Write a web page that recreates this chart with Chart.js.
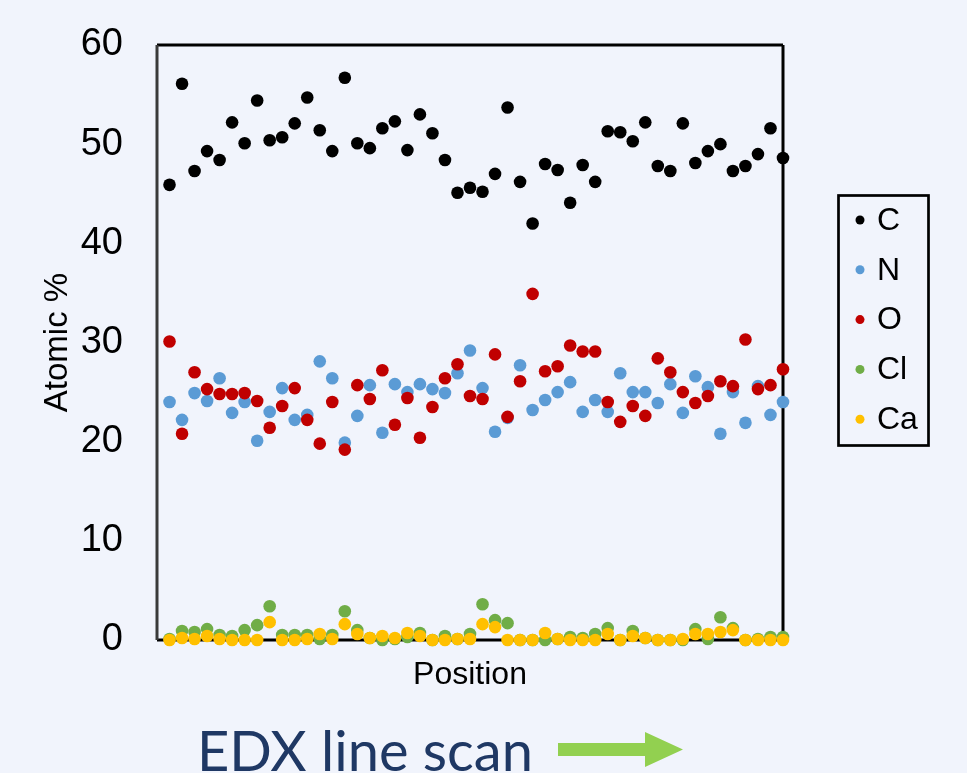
<!DOCTYPE html>
<html>
<head>
<meta charset="utf-8">
<script src="https://cdn.jsdelivr.net/npm/chart.js@4.4.0/dist/chart.umd.min.js"></script>
<style>
body { margin:0; background:#f1f4fc; width:967px; height:773px; overflow:hidden; position:relative }
#chart { position:absolute; left:0; top:0 }
#scanLabel { position:absolute; left:197px; top:722px; font-family:Lato, "Open Sans", sans-serif; font-size:56px; line-height:1; color:#1f3864; white-space:nowrap }
#scanArrow { position:absolute; left:556px; top:730px }
</style>
</head>
<body>
<canvas id="chart" width="967" height="773"></canvas>
<div id="scanLabel">EDX line scan</div>
<svg id="scanArrow" width="130" height="40"><polygon points="2,13 89,13 89,2 127,19.5 89,37 89,26 2,26" fill="#92d050"/></svg>
<script>
const positions = [1, 2, 3, 4, 5, 6, 7, 8, 9, 10, 11, 12, 13, 14, 15, 16, 17, 18, 19, 20, 21, 22, 23, 24, 25,
    26, 27, 28, 29, 30, 31, 32, 33, 34, 35, 36, 37, 38, 39, 40, 41, 42, 43, 44, 45, 46, 47, 48, 49, 50]

const carbon = [45.9, 56.1, 47.3, 49.3, 48.4, 52.2, 50.1, 54.4, 50.4, 50.7, 52.1, 54.7, 51.4, 49.3, 56.7, 50.1, 49.6, 51.6, 52.3, 49.4, 53.0, 51.1, 48.4, 45.1, 45.6,
    45.2, 47.0, 53.7, 46.2, 42.0, 48.0, 47.4, 44.1, 47.9, 46.2, 51.3, 51.2, 50.3, 52.2, 47.8, 47.3, 52.1, 48.1, 49.3, 50.0, 47.3, 47.8, 49.0, 51.6, 48.6]
const nitrogen = [24.0, 22.2, 24.9, 24.1, 26.4, 22.9, 24.0, 20.1, 23.0, 25.4, 22.2, 22.7, 28.1, 26.4, 19.9, 22.6, 25.7, 20.9, 25.8, 25.0, 25.8, 25.3, 24.9, 26.9, 29.2,
    25.4, 21.0, 22.4, 27.7, 23.2, 24.2, 25.0, 26.0, 23.0, 24.2, 23.0, 26.9, 25.0, 25.0, 23.9, 25.8, 22.9, 26.6, 25.5, 20.8, 25.0, 21.9, 25.6, 22.7, 24.0]
const oxygen = [30.1, 20.8, 27.0, 25.3, 24.8, 24.8, 24.9, 24.1, 21.4, 23.6, 25.4, 22.2, 19.8, 24.0, 19.2, 25.7, 24.3, 27.2, 21.7, 24.4, 20.4, 23.5, 26.4, 27.8, 24.6,
    24.3, 28.8, 22.5, 26.1, 34.9, 27.1, 27.6, 29.7, 29.1, 29.1, 24.0, 22.0, 23.6, 22.6, 28.4, 27.0, 25.0, 23.9, 24.6, 26.1, 25.6, 30.3, 25.3, 25.7, 27.3]
const chlorine = [0.1, 0.9, 0.8, 1.1, 0.5, 0.4, 1.0, 1.5, 3.4, 0.5, 0.5, 0.5, 0.1, 0.5, 2.9, 1.0, 0.2, 0.0, 0.1, 0.3, 0.7, 0.0, 0.4, 0.1, 0.6,
    3.6, 2.0, 1.7, 0.0, 0.0, 0.0, 0.1, 0.3, 0.2, 0.6, 1.2, 0.0, 0.9, 0.2, 0.0, 0.0, 0.0, 1.1, 0.1, 2.3, 1.2, 0.0, 0.1, 0.3, 0.3]
const calcium = [0.0, 0.2, 0.1, 0.4, 0.1, 0.0, 0.0, 0.0, 1.8, 0.0, 0.0, 0.1, 0.6, 0.1, 1.6, 0.6, 0.2, 0.4, 0.2, 0.7, 0.4, 0.0, 0.0, 0.1, 0.1,
    1.6, 1.3, 0.0, 0.0, 0.0, 0.7, 0.1, 0.0, 0.0, 0.0, 0.6, 0.0, 0.4, 0.2, 0.0, 0.0, 0.1, 0.6, 0.6, 0.8, 1.0, 0.0, 0.0, 0.0, 0.0]

const elements = ["C", "N", "O", "Cl", "Ca"]
const series = [carbon, nitrogen, oxygen, chlorine, calcium]
const colors = ["#000000", "#5b9bd5", "#c00000", "#70ad47", "#ffc000"]
const yTicks = [0, 10, 20, 30, 40, 50, 60]

const font = "'Liberation Sans', Arial, sans-serif"

// black frame round the plot, drawn under the points
const plotFrame = {
    id: "plotFrame",
    beforeDatasetsDraw(chart) {
        const {ctx, chartArea: a} = chart
        ctx.save()
        ctx.strokeStyle = "#000"
        ctx.lineWidth = 3
        ctx.beginPath()
        ctx.moveTo(a.left, a.top); ctx.lineTo(a.right, a.top)
        ctx.moveTo(a.right, a.top); ctx.lineTo(a.right, a.bottom)
        ctx.moveTo(a.left, a.bottom); ctx.lineTo(a.right, a.bottom)
        ctx.stroke()
        ctx.strokeStyle = "#3a3a3a"
        ctx.beginPath()
        ctx.moveTo(a.left, a.top); ctx.lineTo(a.left, a.bottom)
        ctx.stroke()
        ctx.restore()
    }
}

// boxed legend on the right
const boxLegend = {
    id: "boxLegend",
    afterDraw(chart) {
        const ctx = chart.ctx
        ctx.save()
        ctx.lineWidth = 2.7
        ctx.strokeStyle = "#000"
        ctx.strokeRect(838.5, 195.5, 90, 250)
        ctx.font = "32px " + font
        ctx.textBaseline = "middle"
        chart.data.datasets.forEach((ds, i) => {
            const y = 220 + i * 49.8
            ctx.fillStyle = ds.backgroundColor
            ctx.beginPath()
            ctx.arc(860, y, 4.5, 0, Math.PI * 2)
            ctx.fill()
            ctx.fillStyle = "#000"
            ctx.fillText(ds.label, 877, y + 1)
        })
        ctx.restore()
    }
}

const datasets = elements.map((el, k) => ({
    label: el,
    data: positions.map((p, i) => ({x: p, y: series[k][i]})),
    backgroundColor: colors[k],
    borderWidth: 0,
    pointRadius: 6.3,
    pointHoverRadius: 6.3,
    clip: false,
    order: elements.length - k
}))

new Chart(document.getElementById("chart"), {
    type: "scatter",
    data: {datasets},
    options: {
        responsive: false,
        animation: false,
        events: [],
        layout: {padding: {top: 45, right: 184, bottom: 0, left: 0}},
        plugins: {legend: {display: false}, tooltip: {enabled: false}},
        scales: {
            x: {
                type: "linear", min: 0, max: 50,
                grid: {display: false, drawTicks: false},
                border: {display: false},
                ticks: {display: false},
                title: {display: true, text: "Position", color: "#000", font: {family: font, size: 32}, padding: {top: 0, bottom: 79}},
                afterFit(scale) { scale.height = 133; scale.paddingLeft = 0; scale.paddingRight = 0 }
            },
            y: {
                min: 0, max: 60,
                grid: {display: false, drawTicks: false},
                border: {display: false},
                afterBuildTicks(scale) { scale.ticks = yTicks.map(v => ({value: v})) },
                ticks: {color: "#000", padding: 34, font: {family: font, size: 38}},
                title: {display: true, text: "Atomic %", color: "#000", font: {family: font, size: 33}, padding: {top: 38, bottom: 0}},
                afterFit(scale) { scale.width = 157; scale.paddingTop = 0; scale.paddingBottom = 0 }
            }
        }
    },
    plugins: [plotFrame, boxLegend]
})
</script>
</body>
</html>
